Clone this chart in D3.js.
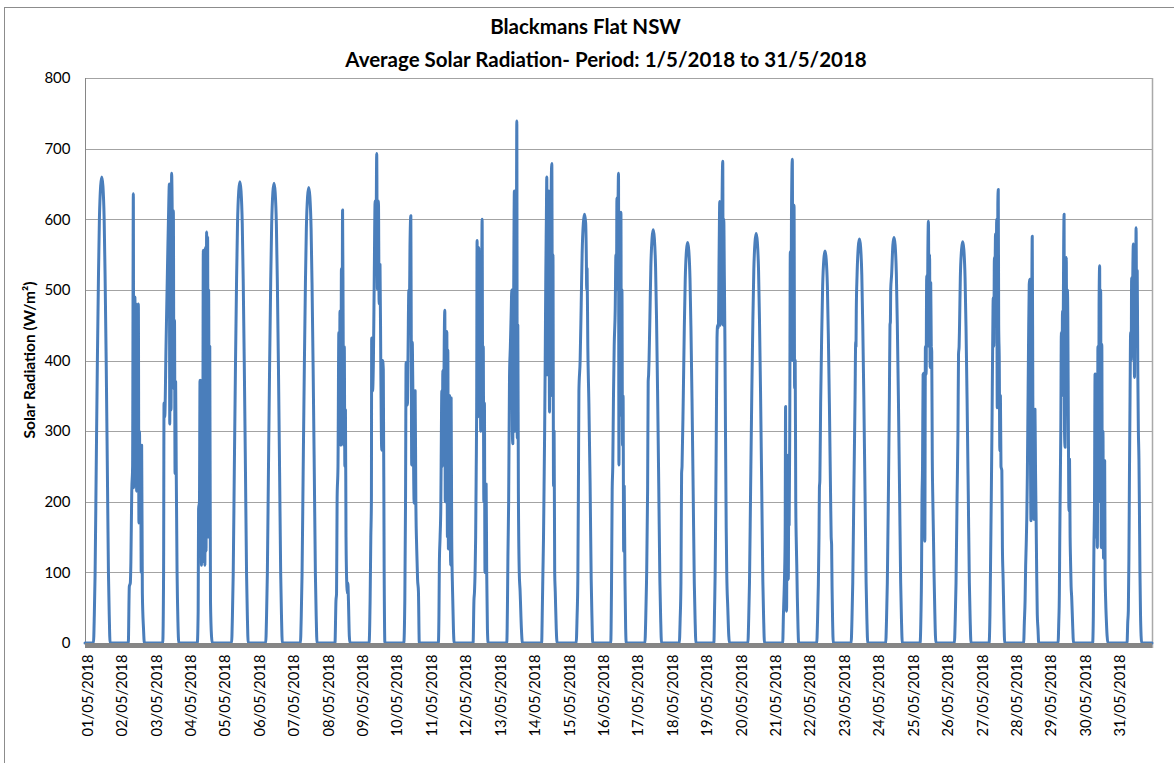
<!DOCTYPE html>
<html>
<head>
<meta charset="utf-8">
<script src="https://cdn.jsdelivr.net/npm/d3@7"></script>
<style>
  html, body { margin: 0; padding: 0; background: #ffffff; }
  svg { display: block; }
  text { font-family: Lato, "Open Sans", sans-serif; fill: #000; }
</style>
</head>
<body>
<svg id="chart" width="1174" height="763"></svg>
<script>
// ---------- Data ----------
const titleLines = ["Blackmans Flat NSW", "Average Solar Radiation- Period: 1/5/2018 to 31/5/2018"];
const yAxisTitle = "Solar Radiation (W/m\u00B2)";
const yTicks = [0, 100, 200, 300, 400, 500, 600, 700, 800];
const dayLabels = ["01/05/2018","02/05/2018","03/05/2018","04/05/2018","05/05/2018","06/05/2018","07/05/2018",
  "08/05/2018","09/05/2018","10/05/2018","11/05/2018","12/05/2018","13/05/2018","14/05/2018","15/05/2018",
  "16/05/2018","17/05/2018","18/05/2018","19/05/2018","20/05/2018","21/05/2018","22/05/2018","23/05/2018",
  "24/05/2018","25/05/2018","26/05/2018","27/05/2018","28/05/2018","29/05/2018","30/05/2018","31/05/2018"];

// each day: [hour of day, W/m2]
const may01 = [[0,0],[5.9,0],[6.5,40],[7.05,99],[7.8,244],[8.65,403],[9.4,521],[10.05,601],[10.9,647],[11.7,660],[12.5,647],[13.35,601],[14.0,521],[14.75,403],[15.6,244],[16.35,99],[16.9,40],[17.5,0]];
const may02 = [[6.2,0],[6.9,80],[7.6,85],[8.0,115],[8.6,215],[9.2,250],[9.7,636],[10.0,220],[10.4,300],[10.8,490],[11.2,250],[11.6,480],[12.0,215],[12.4,475],[12.8,240],[13.2,480],[13.6,170],[14.0,300],[14.4,175],[14.8,280],[15.2,100],[15.5,280],[16.0,70],[16.8,20],[17.4,0]];
const may03 = [[6.2,0],[6.8,100],[7.1,340],[7.6,320],[8.5,420],[9.5,530],[10.5,630],[10.8,650],[11.1,310],[11.5,650],[12.0,330],[12.4,665],[12.8,610],[13.2,480],[13.6,612],[14.0,360],[14.4,457],[14.8,240],[15.2,370],[15.6,250],[16.2,100],[16.8,30],[17.4,0]];
const may04 = [[6.3,0],[6.9,45],[7.2,190],[7.8,200],[8.2,372],[8.8,370],[9.2,110],[9.6,370],[10.0,120],[10.5,556],[10.8,115],[11.2,540],[11.6,110],[12.0,560],[12.4,130],[12.8,582],[13.1,200],[13.5,575],[13.9,150],[14.2,500],[14.6,260],[15.0,420],[15.5,60],[16.2,10],[16.8,0]];
const may05 = [[6.2,0],[6.8,39],[7.35,98],[8.1,242],[8.95,398],[9.7,516],[10.35,594],[11.2,640],[12.0,653],[12.8,640],[13.65,594],[14.3,516],[15.05,398],[15.9,242],[16.65,98],[17.2,39],[17.8,0]];
const may06 = [[6.0,0],[6.6,39],[7.15,98],[7.9,241],[8.75,397],[9.5,514],[10.15,592],[11.0,638],[11.8,651],[12.6,638],[13.45,592],[14.1,514],[14.85,397],[15.7,241],[16.45,98],[17.0,39],[17.6,0]];
const may07 = [[6.2,0],[6.8,39],[7.35,97],[8.1,239],[8.95,393],[9.7,510],[10.35,587],[11.2,632],[12.0,645],[12.8,632],[13.65,587],[14.3,510],[15.05,393],[15.9,239],[16.65,97],[17.2,39],[17.8,0]];
const may08 = [[6.3,0],[7.0,60],[7.4,70],[7.8,205],[8.4,250],[9.0,440],[9.4,300],[9.8,470],[10.4,280],[10.8,530],[11.2,330],[11.6,613],[12.0,450],[12.4,280],[12.8,420],[13.2,250],[13.6,330],[14.0,150],[14.6,80],[15.0,70],[15.3,85],[15.7,60],[16.3,10],[16.8,0]];
const may09 = [[6.1,0],[6.8,60],[7.3,150],[7.7,200],[7.9,432],[8.5,357],[9.1,400],[9.7,520],[10.3,626],[10.9,560],[11.4,693],[11.9,501],[12.3,600],[12.6,626],[13.1,480],[13.7,536],[14.3,380],[14.9,273],[15.5,400],[16.0,387],[16.6,100],[17.1,0]];
const may10 = [[6.3,0],[7.0,60],[7.5,200],[7.9,397],[8.3,350],[8.8,337],[9.3,420],[9.8,500],[10.2,470],[10.6,560],[11.2,605],[11.5,430],[11.8,252],[12.2,426],[12.5,380],[12.9,300],[13.5,198],[13.9,340],[14.2,357],[14.7,200],[15.3,133],[15.9,90],[16.5,73],[17.1,0]];
const may11 = [[6.4,0],[6.8,40],[7.1,113],[7.6,150],[8.1,193],[8.5,300],[8.8,357],[9.2,250],[9.5,386],[10.0,300],[10.5,430],[10.9,471],[11.2,200],[11.6,440],[12.0,300],[12.3,441],[12.7,150],[13.0,415],[13.4,133],[13.8,250],[14.2,350],[14.6,200],[15.0,110],[15.3,347],[15.7,150],[16.3,73],[16.9,20],[17.4,0]];
const may12 = [[6.6,0],[7.2,60],[7.6,73],[8.0,100],[8.4,150],[8.8,250],[9.1,330],[9.4,570],[9.8,320],[10.2,480],[10.6,560],[11.0,400],[11.5,540],[11.9,300],[12.3,450],[12.6,520],[12.9,600],[13.3,350],[13.7,420],[14.1,200],[14.5,340],[14.9,100],[15.2,120],[15.7,225],[16.1,100],[16.6,20],[17.1,0]];
const may13 = [[6.1,0],[6.6,60],[6.9,123],[7.4,200],[8.0,376],[8.6,420],[9.2,470],[9.6,500],[10.0,300],[10.3,282],[10.8,450],[11.4,640],[11.8,300],[12.2,350],[12.6,380],[13.1,739],[13.4,290],[13.8,450],[14.2,212],[14.8,100],[15.4,73],[16.3,20],[17.0,0]];
const may14 = [[6.4,0],[6.9,50],[7.3,100],[7.7,148],[8.1,222],[8.5,300],[8.9,400],[9.3,520],[9.7,600],[10.0,660],[10.3,380],[10.7,600],[11.0,420],[11.4,640],[11.9,327],[12.3,600],[12.7,350],[13.1,650],[13.5,679],[13.9,446],[14.3,550],[14.7,222],[15.1,300],[15.5,100],[15.9,73],[16.6,20],[17.2,0]];
const may15 = [[6.5,0],[7.1,36],[7.65,91],[8.1,242],[8.4,357],[9.25,400],[10.0,480],[10.65,552],[11.5,595],[12.3,607],[13.1,595],[13.6,540],[13.8,500],[14.1,530],[14.6,421],[15.35,340],[16.2,225],[16.95,91],[17.5,36],[18.0,0]];
const may16 = [[6.6,0],[7.1,73],[7.6,217],[8.0,250],[8.5,350],[9.0,420],[9.7,471],[10.2,550],[10.6,500],[10.9,630],[11.3,520],[11.6,600],[12.0,665],[12.3,252],[12.7,500],[13.1,400],[13.4,560],[13.7,610],[14.0,322],[14.4,500],[14.8,280],[15.2,350],[15.6,130],[16.0,222],[16.5,90],[17.0,20],[17.4,0]];
const may17 = [[6.4,0],[7.0,35],[7.55,88],[8.3,217],[8.7,370],[9.0,380],[9.3,400],[9.9,462],[10.55,532],[11.4,573],[12.2,585],[13.0,573],[13.85,532],[14.5,462],[15.25,357],[16.1,217],[16.85,88],[17.4,35],[18.0,0]];
const may18 = [[6.4,0],[7.0,34],[7.55,85],[8.0,240],[8.3,250],[9.15,346],[9.9,448],[10.55,516],[11.4,556],[12.2,567],[13.0,556],[13.85,516],[14.5,448],[15.25,346],[16.1,210],[16.85,85],[17.4,34],[18.0,0]];
const may19 = [[6.5,0],[7.0,50],[7.4,100],[7.7,167],[8.2,300],[8.7,432],[9.1,450],[9.6,446],[10.2,560],[10.6,625],[11.0,450],[11.4,600],[11.8,460],[12.2,620],[12.7,682],[13.0,450],[13.4,600],[13.8,520],[14.2,430],[14.6,300],[15.1,163],[15.5,97],[16.2,50],[16.9,10],[17.4,0]];
const may20 = [[6.2,0],[6.8,35],[7.35,87],[8.1,215],[8.95,354],[9.7,458],[10.35,528],[11.2,568],[12.0,580],[12.8,568],[13.65,528],[14.3,458],[15.05,354],[15.9,215],[16.65,87],[17.2,35],[17.8,0]];
const may21 = [[6.5,0],[7.0,40],[7.3,60],[7.8,97],[8.2,150],[8.5,335],[8.8,100],[9.2,45],[9.5,180],[9.8,100],[10.1,266],[10.4,90],[10.7,200],[11.0,167],[11.4,300],[11.8,554],[12.2,400],[12.6,600],[13.2,685],[13.6,400],[14.0,560],[14.4,620],[14.8,361],[15.2,400],[15.6,200],[16.0,140],[16.3,111],[16.7,64],[17.2,20],[17.6,0]];
const may22 = [[6.2,0],[6.8,33],[7.35,83],[7.8,150],[8.1,220],[8.4,230],[8.95,339],[9.7,438],[10.35,505],[11.2,544],[12.0,555],[12.8,544],[13.65,505],[14.3,438],[15.05,339],[15.9,205],[16.3,150],[16.6,139],[16.9,80],[17.3,30],[17.8,0]];
const may23 = [[6.2,0],[6.8,34],[7.35,86],[8.1,212],[8.95,349],[9.4,427],[9.6,420],[9.8,470],[10.35,521],[11.2,561],[12.0,572],[12.8,561],[13.65,521],[14.3,452],[15.05,349],[15.9,212],[16.65,86],[17.2,34],[17.8,0]];
const may24 = [[6.3,0],[6.9,34],[7.45,86],[8.2,212],[8.9,350],[9.3,450],[9.6,455],[9.8,500],[10.45,522],[11.3,563],[12.1,574],[12.9,563],[13.75,522],[14.4,453],[15.15,350],[16.0,212],[16.75,86],[17.3,34],[17.9,0]];
const may25 = [[6.3,0],[6.9,40],[7.3,100],[7.6,200],[8.0,250],[8.4,380],[8.8,382],[9.2,300],[9.6,144],[10.0,420],[10.5,380],[10.9,520],[11.3,420],[11.7,550],[12.1,597],[12.5,480],[12.9,550],[13.3,390],[13.7,510],[14.1,420],[14.4,413],[14.8,260],[15.2,200],[15.6,153],[16.0,100],[16.5,50],[17.0,10],[17.4,0]];
const may26 = [[6.2,0],[6.8,34],[7.35,85],[8.1,210],[8.7,300],[9.1,409],[9.5,420],[9.8,449],[10.35,517],[11.2,557],[12.0,568],[12.8,557],[13.65,517],[14.3,449],[15.05,346],[15.9,210],[16.65,85],[17.2,34],[17.8,0]];
const may27 = [[6.4,0],[7.0,40],[7.4,107],[7.9,200],[8.4,300],[8.9,420],[9.3,489],[9.7,420],[10.1,546],[10.5,520],[10.9,579],[11.3,480],[11.7,600],[12.1,333],[12.5,620],[12.8,642],[13.1,450],[13.5,400],[13.9,272],[14.3,350],[14.7,250],[15.3,244],[15.7,135],[16.2,90],[16.7,40],[17.3,0]];
const may28 = [[6.5,0],[7.0,30],[7.5,60],[7.9,109],[8.3,140],[8.7,178],[9.1,240],[9.5,330],[9.9,420],[10.4,508],[10.8,515],[11.2,300],[11.6,173],[12.0,400],[12.5,576],[12.9,350],[13.3,180],[13.7,175],[14.1,200],[14.4,331],[14.8,240],[15.2,175],[15.6,100],[16.0,41],[16.5,20],[17.0,0]];
const may29 = [[6.5,0],[7.0,30],[7.4,69],[7.7,150],[8.0,216],[8.4,300],[8.8,440],[9.2,350],[9.6,470],[10.0,420],[10.4,560],[10.7,607],[11.0,300],[11.4,277],[11.8,420],[12.2,546],[12.6,400],[13.0,500],[13.3,461],[13.7,300],[14.1,187],[14.5,260],[14.9,150],[15.2,117],[15.6,80],[16.0,65],[16.6,30],[17.3,0]];
const may30 = [[6.6,0],[7.1,40],[7.5,135],[7.9,200],[8.3,381],[8.7,200],[9.1,150],[9.5,300],[9.9,135],[10.3,420],[10.7,200],[11.1,480],[11.5,534],[11.8,250],[12.2,500],[12.6,135],[13.0,423],[13.4,150],[13.8,300],[14.2,120],[14.6,230],[15.0,258],[15.3,100],[15.7,60],[16.1,36],[16.7,10],[17.2,0]];
const may31 = [[6.6,0],[7.1,30],[7.5,46],[7.9,120],[8.3,244],[8.7,350],[9.1,440],[9.5,400],[9.8,517],[10.2,420],[10.6,520],[11.0,565],[11.4,480],[11.8,376],[12.2,560],[12.6,500],[12.9,588],[13.3,450],[13.7,527],[14.1,385],[14.5,300],[14.9,260],[15.2,197],[15.6,100],[16.0,40],[16.4,10],[16.8,0],[24,0]];

const days = [may01,may02,may03,may04,may05,may06,may07,may08,may09,may10,may11,may12,may13,may14,may15,
  may16,may17,may18,may19,may20,may21,may22,may23,may24,may25,may26,may27,may28,may29,may30,may31];

// ---------- Chart ----------
const svg = d3.select("#chart");
const W = 1174, H = 763;
const plot = { left: 85, right: 1152, top: 78, bottom: 643 };

svg.append("rect").attr("x", 0).attr("y", 0).attr("width", W).attr("height", H).attr("fill", "#fff");
// outer chart border
svg.append("rect").attr("x", 4.5).attr("y", 7.5).attr("width", 1400).attr("height", 900)
  .attr("fill", "none").attr("stroke", "#8c8c8c").attr("stroke-width", 1);

const x = d3.scaleLinear().domain([0, days.length]).range([plot.left, plot.right]);
const y = d3.scaleLinear().domain([0, 800]).range([plot.bottom, plot.top]);

// gridlines
svg.append("g").selectAll("line").data(yTicks).join("line")
  .attr("x1", plot.left).attr("x2", plot.right)
  .attr("y1", d => Math.round(y(d)) + 0.5).attr("y2", d => Math.round(y(d)) + 0.5)
  .attr("stroke", "#a3a3a3").attr("stroke-width", 1);

// right border of plot area
svg.append("line").attr("x1", plot.right + 0.5).attr("x2", plot.right + 0.5)
  .attr("y1", plot.top).attr("y2", plot.bottom + 5)
  .attr("stroke", "#a9a9a9").attr("stroke-width", 1.5);

// y axis
const yAxis = d3.axisLeft(y).tickValues(yTicks).tickSize(0).tickPadding(15);
const gy = svg.append("g").attr("transform", `translate(${plot.left + 0.5},0)`).call(yAxis);
gy.select(".domain").attr("stroke", "#868686").attr("stroke-width", 1)
  .attr("d", `M0,${plot.top}V${plot.bottom + 5}`);
gy.selectAll("text").style("font-family", "Lato, sans-serif").style("font-size", "15px").attr("fill", "#000");

// series
const points = [];
days.forEach((arr, i) => arr.forEach(([h, v]) => points.push({ t: i + h / 24, v })));
const line = d3.line().x(d => x(d.t)).y(d => y(d.v)).curve(d3.curveMonotoneX);
svg.append("path").datum(points).attr("d", line)
  .attr("fill", "none").attr("stroke", "#4a7ebb").attr("stroke-width", 3)
  .attr("stroke-linejoin", "round").attr("stroke-linecap", "round");

// x axis (thick grey band)
const xAxis = d3.axisBottom(x).tickValues(d3.range(days.length)).tickSize(0).tickFormat(i => dayLabels[i]);
const gx = svg.append("g").attr("transform", `translate(0,${plot.bottom + 2.5})`).call(xAxis);
gx.select(".domain").attr("stroke", "#868686").attr("stroke-width", 5)
  .attr("d", `M${plot.left},0H${plot.right}`);
gx.selectAll(".tick text")
  .style("font-family", "Lato, sans-serif").style("font-size", "14.8px").attr("fill", "#000")
  .attr("text-anchor", "end")
  .attr("transform", "translate(2,9) rotate(-90)")
  .attr("x", 0).attr("y", 0).attr("dy", "0.35em");

// titles
svg.append("text").attr("x", 585.5).attr("y", 34).attr("text-anchor", "middle")
  .style("font-size", "20.5px").style("font-weight", "bold").text(titleLines[0]);
svg.append("text").attr("x", 606).attr("y", 67).attr("text-anchor", "middle")
  .style("font-size", "20.5px").style("font-weight", "bold").text(titleLines[1]);

// y axis title
svg.append("text").attr("transform", "translate(35,360) rotate(-90)").attr("text-anchor", "middle")
  .style("font-size", "15.5px").style("font-weight", "bold").text(yAxisTitle);
</script>
</body>
</html>
